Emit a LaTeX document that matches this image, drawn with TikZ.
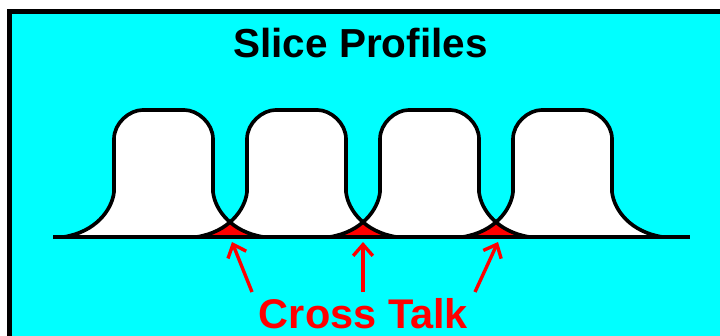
\documentclass[tikz,border=0pt]{standalone}
\usepackage{fontspec}
\setmainfont{Liberation Sans}
\usepackage{tikz}
\usetikzlibrary{arrows.meta}
\definecolor{scancyan}{RGB}{0,255,255}
\definecolor{scanred}{RGB}{255,0,0}
\tikzstyle{profile} = [draw=black, line width=2.6pt, line join=round]
\tikzstyle{arrow} = [scanred, line width=2.4pt, -{Straight Barb[length=8pt,width=14pt]}]
\newcommand{\sliceshape}[1]{({#1-100},237) .. controls ({#1-68},232) and ({#1-51.5},210) .. ({#1-49.5},192) -- ({#1-49.5},139) .. controls ({#1-49.5},123) and ({#1-34},110) .. ({#1-21},110) -- ({#1+21},110) .. controls ({#1+34},110) and ({#1+49.5},123) .. ({#1+49.5},139) -- ({#1+49.5},192) .. controls ({#1+51.5},210) and ({#1+68},232) .. ({#1+100},237) -- cycle}

\begin{document}
\begin{tikzpicture}[
	x=0.025cm, y=-0.025cm,
	label/.style = {
		font=\bfseries\fontsize{#1}{#1}\selectfont,
		anchor=base, inner sep=0pt,
	},
	]
	\useasboundingbox (0,0) rectangle (720,335);
	\clip (0,0) rectangle (720,335);
	\filldraw[fill=scancyan, draw=black, line width=3.5pt] (9.5,11.5) rectangle (780,400);
	\node[label=28.8pt] (title) at (360.5,57) {Slice Profiles};
	\foreach \x in {163.5,296.5,429.5,562.5}
	\fill[white] \sliceshape{\x};
	\foreach \a/\b in {163.5/296.5,296.5/429.5,429.5/562.5}{
		\begin{scope}
			\clip \sliceshape{\a};
			\fill[scanred] \sliceshape{\b};
		\end{scope}
	}
	\foreach \x in {163.5,296.5,429.5,562.5}
	\draw[profile] \sliceshape{\x};
	\coordinate (left) at (53,237);
	\coordinate (right) at (690,237);
	\draw[line width=2.8pt] (left) -- (right);
	\node[label=29.5pt, scanred] (talk) at (363.5,328) {Cross Talk};
	\coordinate (cross1) at (232,242);
	\coordinate (cross2) at (363,242);
	\coordinate (cross3) at (498,242);
	\coordinate (tail1) at (252,292);
	\coordinate (tail2) at (363,292);
	\coordinate (tail3) at (475,292);
	\foreach \i in {1,2,3}
	\draw[arrow] (tail\i) -- (cross\i);
\end{tikzpicture}
\end{document}
